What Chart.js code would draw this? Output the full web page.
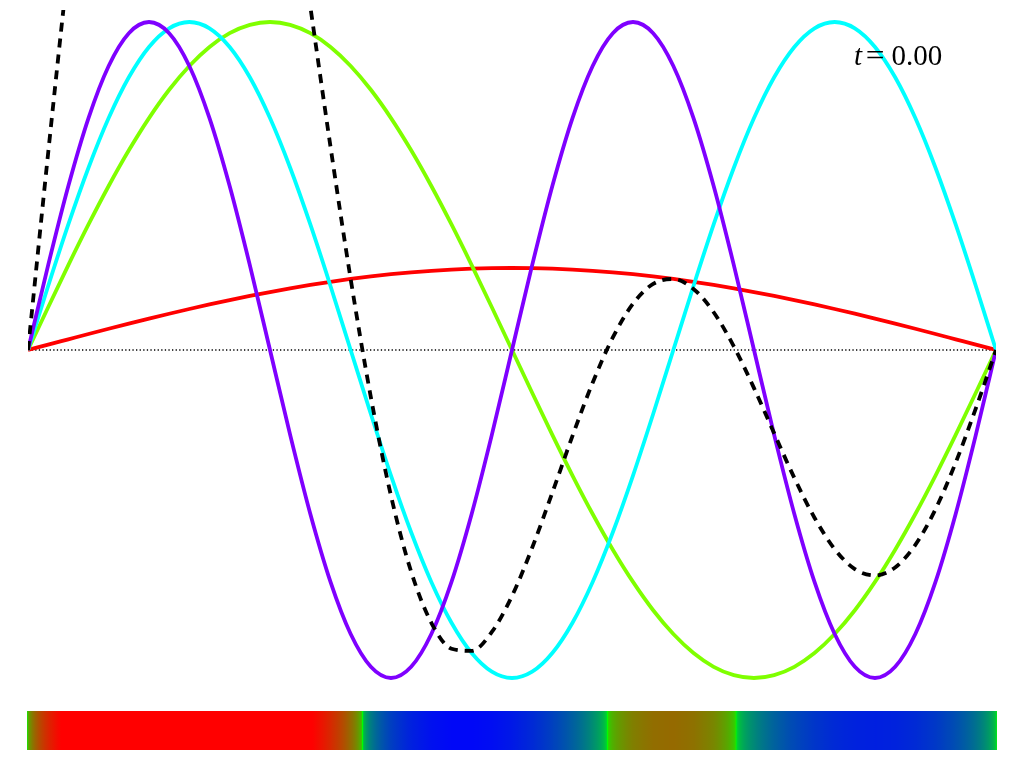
<!DOCTYPE html>
<html>
<head>
<meta charset="utf-8">
<script src="https://cdn.jsdelivr.net/npm/chart.js@4/dist/chart.umd.min.js"></script>
<style>
  html, body { margin: 0; padding: 0; background: #fff; overflow: hidden; }
  #wrap { position: relative; width: 1023px; height: 760px; }
  #main { position: absolute; left: 0; top: 0; }
  #bar { position: absolute; left: 0; top: 711px; }
  #label { position: absolute; left: 854px; top: 41px; font-family: "Liberation Serif", "DejaVu Serif", serif;
           font-size: 29px; line-height: 29px; color: #000; white-space: nowrap; }
  #label .eq { display: inline-block; margin: 0 8px 0 5px; transform: scaleX(1.15); }
</style>
</head>
<body>
<div id="wrap">
  <canvas id="main" width="1023" height="700"></canvas>
  <canvas id="bar" width="1023" height="39"></canvas>
  <div id="label"><i>t</i><span class="eq">=</span>0.00</div>
</div>
<script>
// positions along the string (0..1)
const xs = [0, 0.02083, 0.04167, 0.0625, 0.08333, 0.10417, 0.125, 0.14583, 0.16667, 0.1875, 0.20833, 0.22917, 0.25,
  0.27083, 0.29167, 0.3125, 0.33333, 0.35417, 0.375, 0.39583, 0.41667, 0.4375, 0.45833, 0.47917, 0.5,
  0.52083, 0.54167, 0.5625, 0.58333, 0.60417, 0.625, 0.64583, 0.66667, 0.6875, 0.70833, 0.72917, 0.75,
  0.77083, 0.79167, 0.8125, 0.83333, 0.85417, 0.875, 0.89583, 0.91667, 0.9375, 0.95833, 0.97917, 1];

// mode 1 (red)
const mode1 = [0, 0.0164, 0.0326, 0.0488, 0.0647, 0.0804, 0.0957, 0.1106, 0.125, 0.1389, 0.1522, 0.1648, 0.1768,
  0.1880, 0.1983, 0.2079, 0.2165, 0.2242, 0.2310, 0.2367, 0.2415, 0.2452, 0.2479, 0.2495, 0.25,
  0.2495, 0.2479, 0.2452, 0.2415, 0.2367, 0.2310, 0.2242, 0.2165, 0.2079, 0.1983, 0.1880, 0.1768,
  0.1648, 0.1522, 0.1389, 0.125, 0.1106, 0.0957, 0.0804, 0.0647, 0.0488, 0.0326, 0.0164, 0];

// mode 2 (green)
const mode2 = [0, 0.1305, 0.2588, 0.3827, 0.5, 0.6088, 0.7071, 0.7934, 0.8660, 0.9239, 0.9659, 0.9914, 1,
  0.9914, 0.9659, 0.9239, 0.8660, 0.7934, 0.7071, 0.6088, 0.5, 0.3827, 0.2588, 0.1305, 0,
  -0.1305, -0.2588, -0.3827, -0.5, -0.6088, -0.7071, -0.7934, -0.8660, -0.9239, -0.9659, -0.9914, -1,
  -0.9914, -0.9659, -0.9239, -0.8660, -0.7934, -0.7071, -0.6088, -0.5, -0.3827, -0.2588, -0.1305, 0];

// mode 3 (cyan)
const mode3 = [0, 0.1951, 0.3827, 0.5556, 0.7071, 0.8315, 0.9239, 0.9808, 1, 0.9808, 0.9239, 0.8315, 0.7071,
  0.5556, 0.3827, 0.1951, 0, -0.1951, -0.3827, -0.5556, -0.7071, -0.8315, -0.9239, -0.9808, -1,
  -0.9808, -0.9239, -0.8315, -0.7071, -0.5556, -0.3827, -0.1951, 0, 0.1951, 0.3827, 0.5556, 0.7071,
  0.8315, 0.9239, 0.9808, 1, 0.9808, 0.9239, 0.8315, 0.7071, 0.5556, 0.3827, 0.1951, 0];

// mode 4 (purple)
const mode4 = [0, 0.2588, 0.5, 0.7071, 0.8660, 0.9659, 1, 0.9659, 0.8660, 0.7071, 0.5, 0.2588, 0,
  -0.2588, -0.5, -0.7071, -0.8660, -0.9659, -1, -0.9659, -0.8660, -0.7071, -0.5, -0.2588, 0,
  0.2588, 0.5, 0.7071, 0.8660, 0.9659, 1, 0.9659, 0.8660, 0.7071, 0.5, 0.2588, 0,
  -0.2588, -0.5, -0.7071, -0.8660, -0.9659, -1, -0.9659, -0.8660, -0.7071, -0.5, -0.2588, 0];

// total displacement (black dashed)
const total = [0, 0.6008, 1.1741, 1.6942, 2.1378, 2.4866, 2.7267, 2.8507, 2.857, 2.7507, 2.542, 2.2465, 1.8839,
  1.4762, 1.0469, 0.6198, 0.2165, -0.1434, -0.4446, -0.676, -0.8316, -0.9107, -0.9172, -0.8596, -0.75,
  -0.603, -0.4348, -0.2619, -0.0996, 0.0382, 0.1412, 0.2016, 0.2165, 0.1862, 0.1151, 0.011, -0.1161,
  -0.2539, -0.3898, -0.5113, -0.607, -0.6679, -0.6875, -0.6628, -0.5942, -0.4854, -0.3435, -0.1778, 0];

const yLimit = 1.0366;

function pts(arr) { return arr.map((v, i) => ({ x: xs[i], y: v })); }

function lineDs(label, arr, color, order, extra) {
  return Object.assign({
    label, data: pts(arr), borderColor: color, backgroundColor: color, borderWidth: 3.8,
    pointRadius: 0, fill: false, cubicInterpolationMode: 'monotone', borderJoinStyle: 'round', order
  }, extra || {});
}

new Chart(document.getElementById('main').getContext('2d'), {
  type: 'line',
  data: {
    datasets: [
      lineDs('total', total, '#000000', 0, { borderDash: [9, 7] }),
      lineDs('n=4', mode4, '#7f00ff', 1),
      lineDs('n=3', mode3, '#00ffff', 2),
      lineDs('n=2', mode2, '#7fff00', 3),
      lineDs('n=1', mode1, '#ff0000', 4),
      { label: 'rest', data: [{ x: xs[0], y: 0 }, { x: xs[xs.length - 1], y: 0 }], borderColor: '#000',
        borderWidth: 1.4, borderDash: [1.3, 2.3], pointRadius: 0, order: 5 }
    ]
  },
  options: {
    responsive: false, animation: false,
    layout: { padding: { left: 28, right: 27, top: 10, bottom: 10 } },
    plugins: { legend: { display: false }, tooltip: { enabled: false } },
    scales: {
      x: { type: 'linear', min: 0, max: 1, display: false },
      y: { type: 'linear', min: -yLimit, max: yLimit, display: false }
    }
  }
});

function waveColor(v) {
  const f = Math.min(1, Math.pow(Math.abs(v), 0.35));
  const r = v > 0 ? Math.round(255 * f) : 0;
  const b = v < 0 ? Math.round(255 * f) : 0;
  const g = Math.round(255 * (1 - f));
  return `rgb(${r},${g},${b})`;
}

let cachedGrad = null;
function stripGradient(context) {
  const chart = context.chart;
  const area = chart.chartArea;
  if (!area) return 'rgba(0,0,0,0)';
  if (cachedGrad) return cachedGrad;
  const xScale = chart.scales.x;
  const left = area.left, right = area.right;
  const g = chart.ctx.createLinearGradient(left, 0, right, 0);
  const off = (x) => Math.max(0, Math.min(1, (xScale.getPixelForValue(x) - left) / (right - left)));
  const N = 24;
  for (let i = 0; i < xs.length - 1; i++) {
    const x0 = xs[i], x1 = xs[i + 1], v0 = total[i], v1 = total[i + 1];
    for (let s = 0; s < N; s++) {
      const t = s / N;
      g.addColorStop(off(x0 + (x1 - x0) * t), waveColor(v0 + (v1 - v0) * t));
    }
    if (v0 * v1 < 0) {
      const t = v0 / (v0 - v1);
      g.addColorStop(off(x0 + (x1 - x0) * t), waveColor(0));
    }
  }
  g.addColorStop(1, waveColor(total[total.length - 1]));
  cachedGrad = g;
  return g;
}

new Chart(document.getElementById('bar').getContext('2d'), {
  type: 'bar',
  data: {
    labels: ['displacement'],
    datasets: [{ data: [[xs[0], xs[xs.length - 1]]], backgroundColor: stripGradient, borderWidth: 0,
      barPercentage: 1, categoryPercentage: 1 }]
  },
  options: {
    indexAxis: 'y', responsive: false, animation: false,
    layout: { padding: { left: 27, right: 26, top: 0, bottom: 0 } },
    plugins: { legend: { display: false }, tooltip: { enabled: false } },
    scales: {
      x: { type: 'linear', min: 0, max: 1, display: false },
      y: { display: false }
    }
  }
});
</script>
</body>
</html>
